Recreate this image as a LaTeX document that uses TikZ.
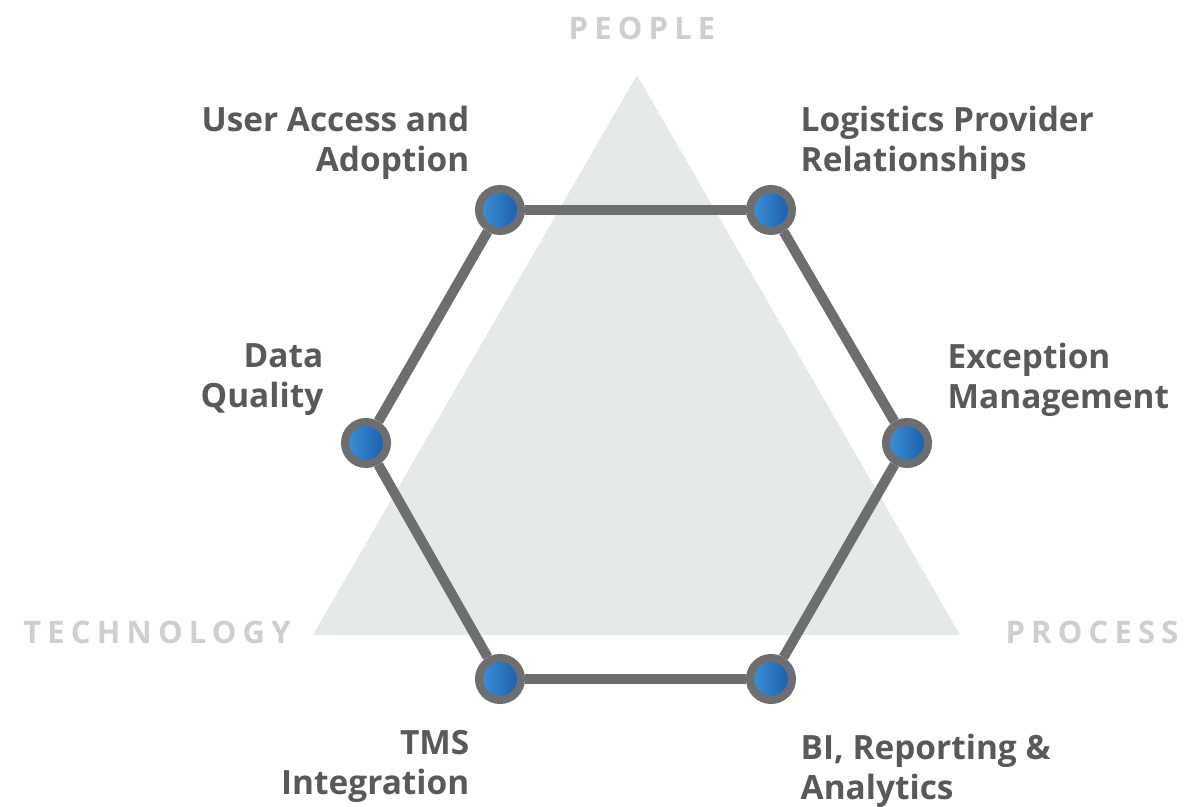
\documentclass[tikz,border=0pt]{standalone}
\usepackage{fontspec}
\setmainfont{Open Sans}
\usepackage{tikz}
\usetikzlibrary{positioning}

\definecolor{trifill}{HTML}{E6E9EA}
\definecolor{ringgray}{HTML}{6D6E70}
\definecolor{txtgray}{HTML}{58595B}
\definecolor{axisgray}{HTML}{CDCFD0}
\definecolor{bluelight}{HTML}{3C93DB}
\definecolor{bluedark}{HTML}{1B5BA6}

\begin{document}
\begin{tikzpicture}[
  x=0.01cm, y=-0.01cm,
  hubs/.style={circle, draw=ringgray, line width=0.08cm, minimum size=0.42cm, inner sep=0pt,
    left color=bluelight, right color=bluedark},
  link/.style={draw=ringgray, line width=0.1cm},
  lbl/.style={font=\fontsize{9.5}{11.4}\selectfont\bfseries, text=txtgray, inner sep=0pt},
  axis/.style={font=\fontsize{8.8}{10}\selectfont\bfseries\addfontfeature{LetterSpace=20}, text=axisgray, inner sep=0pt}
]
\useasboundingbox (0,0) rectangle (1184,807);

% background triangle
\fill[trifill] (637,75) -- (960,635) -- (313,635) -- cycle;

% corner words
\node[axis] (people) at (642,28) {PEOPLE};
\node[axis] (tech) at (157,632) {TECHNOLOGY};
\node[axis] (proc) at (1092,632) {PROCESS};

% hexagon of hubs
\node[hubs] (ua) at (500,210) {};
\node[hubs] (lp) at (771,210) {};
\node[hubs] (ex) at (907,443) {};
\node[hubs] (bi) at (771,679) {};
\node[hubs] (tm) at (500,679) {};
\node[hubs] (dq) at (366,443) {};

\draw[link] (ua) -- (lp);
\draw[link] (lp) -- (ex);
\draw[link] (ex) -- (bi);
\draw[link] (bi) -- (tm);
\draw[link] (tm) -- (dq);
\draw[link] (dq) -- (ua);

% labels
\node[lbl, align=right, anchor=east] (uatxt) at (470,143) {User Access and\\Adoption};
\node[lbl, align=left, anchor=west] (lptxt) at (800,143) {Logistics Provider\\Relationships};
\node[lbl, align=right, anchor=east] (dqtxt) at (324,380) {Data\\Quality};
\node[lbl, align=left, anchor=west] (extxt) at (947,380) {Exception\\Management};
\node[lbl, align=right, anchor=east] (tmtxt) at (470,766) {TMS\\Integration};
\node[lbl, align=left, anchor=west] (bitxt) at (800,771) {BI, Reporting \&\\Analytics};
\end{tikzpicture}
\end{document}
